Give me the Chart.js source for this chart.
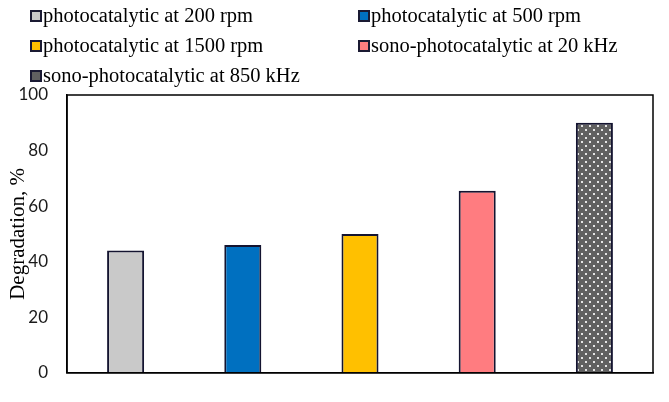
<!DOCTYPE html>
<html>
<head>
<meta charset="utf-8">
<script src="https://cdn.jsdelivr.net/npm/chart.js@4"></script>
<style>
  html, body { margin: 0; padding: 0; background: #fff; }
  #wrap { position: relative; width: 669px; height: 402px; }
  #legend { position: absolute; left: 30px; top: 4px; width: 640px; font-family: "Liberation Serif", serif; font-size: 20.5px; color: #000; }
  .item { position: absolute; white-space: nowrap; display: flex; align-items: center; }
  .box { width: 12px; height: 12px; border: 2px solid #1a1a33; margin-right: 1px; box-sizing: border-box; }
</style>
</head>
<body>
<div id="wrap">
  <canvas id="chart" width="669" height="402"></canvas>
  <div id="legend"></div>
</div>
<script>
// 系列名と値
const seriesNames = ['photocatalytic at 200 rpm', 'photocatalytic at 500 rpm', 'photocatalytic at 1500 rpm', 'sono-photocatalytic at 20 kHz', 'sono-photocatalytic at 850 kHz'];
const degradation = [44, 46, 50, 65.5, 90];
const yTicks = [0, 20, 40, 60, 80, 100];

const fills = ['#c9c9c9', '#0070c0', '#ffc000', '#ff7c80', null];

// 最後の棒は白いドット模様
function dotPattern() {
    const c = document.createElement('canvas');
    c.width = 8; c.height = 8;
    const g = c.getContext('2d');
    g.fillStyle = '#606060';
    g.fillRect(0, 0, 8, 8);
    g.fillStyle = '#e4e4e4';
    g.fillRect(1, 1, 2, 2);
    g.fillRect(5, 5, 2, 2);
    return document.getElementById('chart').getContext('2d').createPattern(c, 'repeat');
}

function createBarChart() {
    const ctx = document.getElementById('chart').getContext('2d');
    const datasets = seriesNames.map((name, i) => ({
        label: name,
        data: [degradation[i]],
        backgroundColor: fills[i] || dotPattern(),
        borderColor: '#141430',
        borderWidth: 2,
        borderSkipped: 'bottom'
    }));

    // 枠線（上と右）
    const frame = {
        id: 'frame',
        afterDraw(chart) {
            const a = chart.chartArea, c = chart.ctx;
            c.save();
            c.strokeStyle = '#000';
            c.lineWidth = 1.5;
            c.strokeRect(a.left, a.top, a.right - a.left, a.bottom - a.top);
            c.restore();
        }
    };

    new Chart(ctx, {
        type: 'bar',
        data: { labels: [''], datasets: datasets },
        options: {
            responsive: false,
            animation: false,
            layout: { padding: { top: 95, right: 16, bottom: 29, left: 6 } },
            plugins: { legend: { display: false }, tooltip: { enabled: false } },
            datasets: { bar: { categoryPercentage: 1, barPercentage: 0.316 } },
            scales: {
                x: {
                    grid: { display: false, drawTicks: false },
                    border: { display: true, color: '#000', width: 1.5 },
                    ticks: { display: false }
                },
                y: {
                    min: 0, max: 100,
                    afterBuildTicks(axis) { axis.ticks = yTicks.map(v => ({ value: v })); },
                    afterFit(axis) { axis.width = 61; },
                    grid: { display: false, drawTicks: false },
                    border: { display: true, color: '#000', width: 1.5 },
                    ticks: { padding: 19, color: '#1a1a1a', font: { family: 'Lato', size: 17 } },
                    title: {
                        display: true, text: 'Degradation, %', color: '#000', padding: { top: 0, bottom: 2 },
                        font: { family: 'Liberation Serif', size: 21 }
                    }
                }
            }
        },
        plugins: [frame]
    });

    // 凡例（2列）
    const pos = [[0, 0], [328, 0], [0, 30], [328, 30], [0, 60]];
    const leg = document.getElementById('legend');
    seriesNames.forEach((name, i) => {
        const d = document.createElement('div');
        d.className = 'item';
        d.style.left = pos[i][0] + 'px';
        d.style.top = pos[i][1] + 'px';
        const b = document.createElement('span');
        b.className = 'box';
        b.style.background = fills[i] || '#606060';
        d.appendChild(b);
        d.appendChild(document.createTextNode(name));
        leg.appendChild(d);
    });
}

createBarChart();
</script>
</body>
</html>
